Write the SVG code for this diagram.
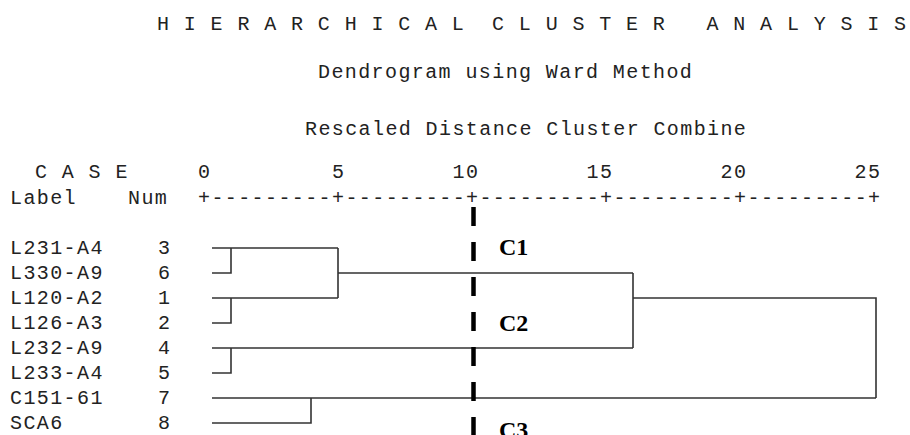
<svg xmlns="http://www.w3.org/2000/svg" width="910" height="435" viewBox="0 0 910 435">
<style>
.m{font-family:"Liberation Mono","Courier New",monospace;font-size:20px;letter-spacing:1.4px;fill:#222}
.lk{fill:none;stroke:#333;stroke-width:1.6}
.cl{font-family:"Liberation Serif","Times New Roman",serif;font-weight:bold;font-size:24px;fill:#000}
</style>
<rect width="910" height="435" fill="#fff"/>
<g id="titles">
<text class="m" x="157" y="30" xml:space="preserve">H I E R A R C H I C A L  C L U S T E R   A N A L Y S I S</text>
<text class="m" x="318" y="78">Dendrogram using Ward Method</text>
<text class="m" x="305" y="135">Rescaled Distance Cluster Combine</text>
</g>
<g id="axis">
<text class="m" x="35" y="178">C A S E</text>
<text class="m" x="10" y="204">Label</text>
<text class="m" x="128" y="204">Num</text>
<text class="m" x="198" y="178">0</text>
<text class="m" x="332" y="178">5</text>
<text class="m" x="452.6" y="178">10</text>
<text class="m" x="586.6" y="178">15</text>
<text class="m" x="720.6" y="178">20</text>
<text class="m" x="854.6" y="178">25</text>
<text class="m" x="198" y="204">+---------+---------+---------+---------+---------+</text>
</g>
<g id="case3"><text class="m" x="10" y="254">L231-A4</text><text class="m" x="158" y="254">3</text></g>
<g id="case6"><text class="m" x="10" y="279">L330-A9</text><text class="m" x="158" y="279">6</text></g>
<g id="case1"><text class="m" x="10" y="304">L120-A2</text><text class="m" x="158" y="304">1</text></g>
<g id="case2"><text class="m" x="10" y="329">L126-A3</text><text class="m" x="158" y="329">2</text></g>
<g id="case4"><text class="m" x="10" y="354">L232-A9</text><text class="m" x="158" y="354">4</text></g>
<g id="case5"><text class="m" x="10" y="379">L233-A4</text><text class="m" x="158" y="379">5</text></g>
<g id="case7"><text class="m" x="10" y="404">C151-61</text><text class="m" x="158" y="404">7</text></g>
<g id="case8"><text class="m" x="10" y="429">SCA6</text><text class="m" x="158" y="429">8</text></g>
<g id="connectors" class="lk">
<path d="M212 248H338M212 273H231V248"/>
<path d="M212 298H338M212 323H231V298"/>
<path d="M338 248V298M338 273H633"/>
<path d="M212 348H633M212 373H231V348"/>
<path d="M633 273V348M633 298H876V398"/>
<path d="M212 398H876M212 423H311V398"/>
</g>
<g id="cutoff">
<line x1="473.5" y1="207" x2="473.5" y2="435" stroke="#000" stroke-width="4.5" stroke-dasharray="19 16"/>
</g>
<g id="clusters">
<text class="cl" x="499" y="255">C1</text>
<text class="cl" x="499" y="331">C2</text>
<text class="cl" x="499" y="438">C3</text>
</g>
</svg>
